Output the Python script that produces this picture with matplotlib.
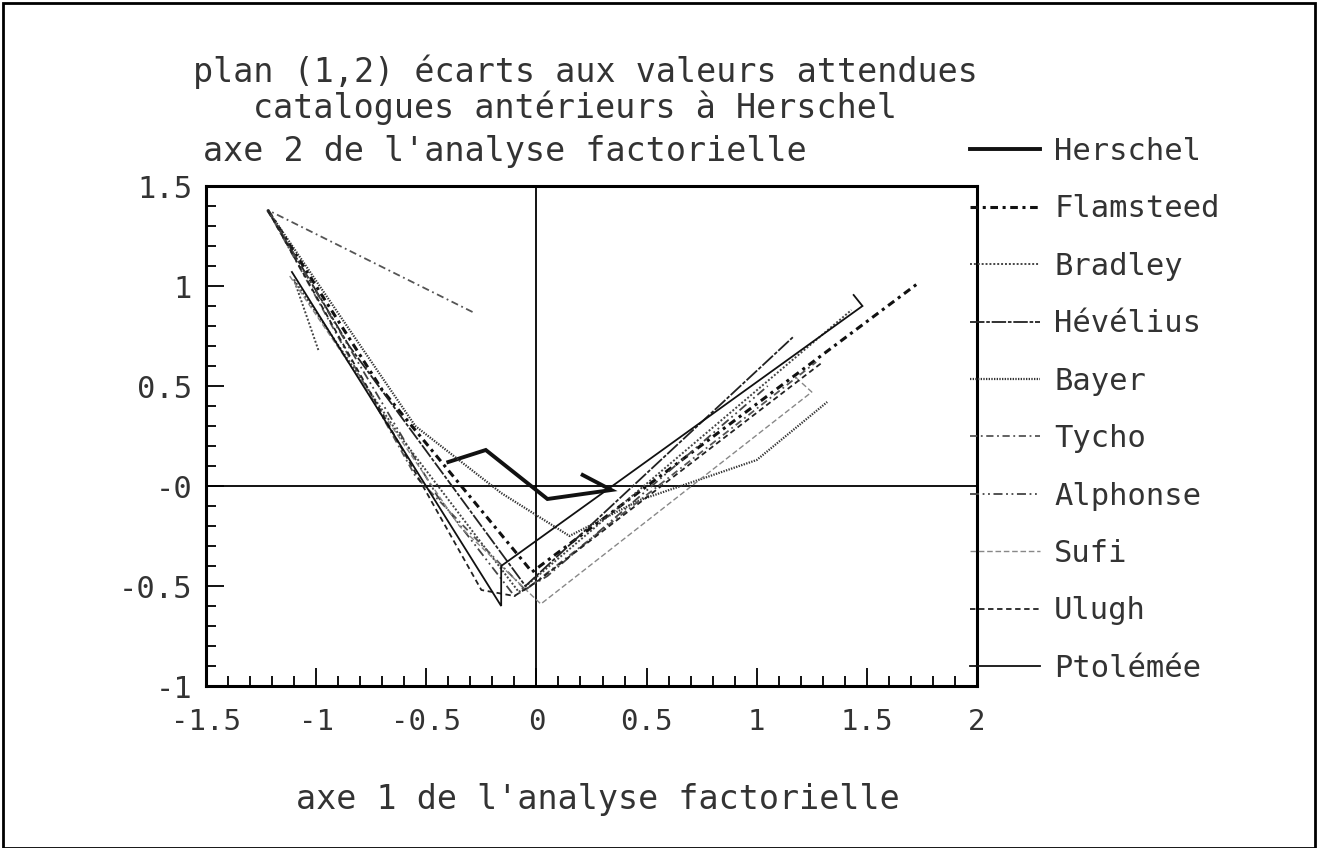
import numpy as np
import matplotlib
matplotlib.use("Agg")
import matplotlib.pyplot as plt
from matplotlib.ticker import MultipleLocator, FixedLocator
from matplotlib.patches import Rectangle

# ---- data (axe 1, axe 2) per catalogue ----
names = ["Herschel", "Flamsteed", "Bradley", "Hévélius", "Bayer",
         "Tycho", "Alphonse", "Sufi", "Ulugh", "Ptolémée"]

herschel_x = [-0.40, -0.23, 0.05, 0.34, 0.21]
herschel_y = [0.12, 0.18, -0.065, -0.02, 0.055]

flamsteed_x = [-1.22, -0.70, -0.02, 1.74]
flamsteed_y = [1.38, 0.48, -0.43, 1.02]

bradley_x = [-0.99, -1.10, -0.62, -0.08, 1.43]
bradley_y = [0.68, 1.03, 0.25, -0.53, 0.88]

hevelius_x = [-1.22, -0.85, -0.05, 1.17]
hevelius_y = [1.38, 0.70, -0.50, 0.75]

bayer_x = [-1.22, -0.55, -0.16, 0.15, 0.47, 1.00, 1.32]
bayer_y = [1.38, 0.30, -0.035, -0.25, -0.07, 0.13, 0.42]

tycho_x = [-0.29, -1.22, -0.55, -0.05, 1.27]
tycho_y = [0.87, 1.38, 0.05, -0.52, 0.62]

alphonse_x = [-1.22, -0.45, -0.10, 0.05, 1.05]
alphonse_y = [1.38, -0.05, -0.55, -0.45, 0.50]

sufi_x = [-1.12, -0.35, 0.02, 1.25, 1.17]
sufi_y = [1.05, -0.20, -0.59, 0.47, 0.55]

ulugh_x = [-1.22, -0.25, -0.10, 0.0, 1.30]
ulugh_y = [1.38, -0.52, -0.55, -0.48, 0.62]

ptolemee_x = [-1.11, -0.16, -0.16, 1.48, 1.44]
ptolemee_y = [1.07, -0.60, -0.40, 0.90, 0.955]

series_x = [herschel_x, flamsteed_x, bradley_x, hevelius_x, bayer_x,
            tycho_x, alphonse_x, sufi_x, ulugh_x, ptolemee_x]
series_y = [herschel_y, flamsteed_y, bradley_y, hevelius_y, bayer_y,
            tycho_y, alphonse_y, sufi_y, ulugh_y, ptolemee_y]

styles = [
    dict(color="#111111", lw=2.8, ls="-"),
    dict(color="#111111", lw=2.2, ls=(0, (2.5, 1.5, 1, 1.5))),
    dict(color="#444444", lw=1.4, ls=(0, (1, 1))),
    dict(color="#222222", lw=1.3, ls=(0, (8, 1, 2, 1))),
    dict(color="#333333", lw=1.6, ls=(0, (0.6, 0.6))),
    dict(color="#555555", lw=1.3, ls=(0, (4, 2, 1, 2))),
    dict(color="#444444", lw=1.3, ls=(0, (5, 2, 1, 2, 1, 2))),
    dict(color="#888888", lw=1.0, ls=(0, (4, 2))),
    dict(color="#222222", lw=1.3, ls=(0, (3, 2))),
    dict(color="#111111", lw=1.3, ls="-"),
]

xticks = [-1.5, -1, -0.5, 0, 0.5, 1, 1.5, 2]
xticklabels = ["-1.5", "-1", "-0.5", "0", "0.5", "1", "1.5", "2"]
yticks = [-1, -0.5, 0, 0.5, 1, 1.5]
yticklabels = ["-1", "-0.5", "-0", "0.5", "1", "1.5"]

W, H = 1318, 848
font = ["DejaVu Sans Mono"]
tc = "#333333"

fig = plt.figure(figsize=(W / 100, H / 100), dpi=100)
fig.patch.set_facecolor("white")
fig.add_artist(Rectangle((3 / W, 0.0), 1 - 6 / W, 1 - 3 / H, transform=fig.transFigure,
                         fill=False, lw=2.0, ec="black"))

L, R, T, B = 206, 977, 186, 686
ax = fig.add_axes([L / W, 1 - B / H, (R - L) / W, (B - T) / H])
ax.set_xlim(-1.5, 2)
ax.set_ylim(-1, 1.5)

for x, y, st in zip(series_x, series_y, styles):
    ax.plot(x, y, solid_joinstyle="miter", **st)

ax.axhline(0, color="black", lw=1.3, zorder=1)
ax.axvline(0, color="black", lw=1.3, zorder=1)

for s in ax.spines.values():
    s.set_linewidth(2.2)
ax.xaxis.set_major_locator(FixedLocator(xticks))
ax.yaxis.set_major_locator(FixedLocator(yticks))
ax.set_xticklabels(xticklabels, fontfamily=font, fontsize=21, color=tc)
ax.set_yticklabels(yticklabels, fontfamily=font, fontsize=22, color=tc)
ax.xaxis.set_minor_locator(MultipleLocator(0.1))
ax.yaxis.set_minor_locator(MultipleLocator(0.1))
ax.tick_params(which="both", direction="in", top=False, right=False, width=1.3)
ax.tick_params(which="major", length=13)
ax.tick_params(which="minor", length=7)
ax.tick_params(axis="x", which="major", pad=16)
ax.tick_params(axis="y", which="major", pad=10)

fig.text(585 / W, 1 - 72 / H, "plan (1,2) écarts aux valeurs attendues",
         ha="center", va="center", fontfamily=font, fontsize=24, color=tc)
fig.text(575 / W, 1 - 108 / H, "catalogues antérieurs à Herschel",
         ha="center", va="center", fontfamily=font, fontsize=24, color=tc)
fig.text(203 / W, 1 - 152 / H, "axe 2 de l'analyse factorielle",
         ha="left", va="center", fontfamily=font, fontsize=24, color=tc)
fig.text(598 / W, 1 - 800 / H, "axe 1 de l'analyse factorielle",
         ha="center", va="center", fontfamily=font, fontsize=24, color=tc)

handles = []
for st in styles:
    h, = ax.plot([], [], **st)
    handles.append(h)
leg = fig.legend(handles, names, loc="upper left",
                 bbox_to_anchor=(970 / W, 1 - 137 / H),
                 frameon=False, handlelength=2.3, handletextpad=0.45,
                 labelspacing=0.93, borderaxespad=0, borderpad=0,
                 prop={"family": font, "size": 22})
for t in leg.get_texts():
    t.set_color(tc)

fig.savefig("out.png", dpi=100, facecolor="white")
